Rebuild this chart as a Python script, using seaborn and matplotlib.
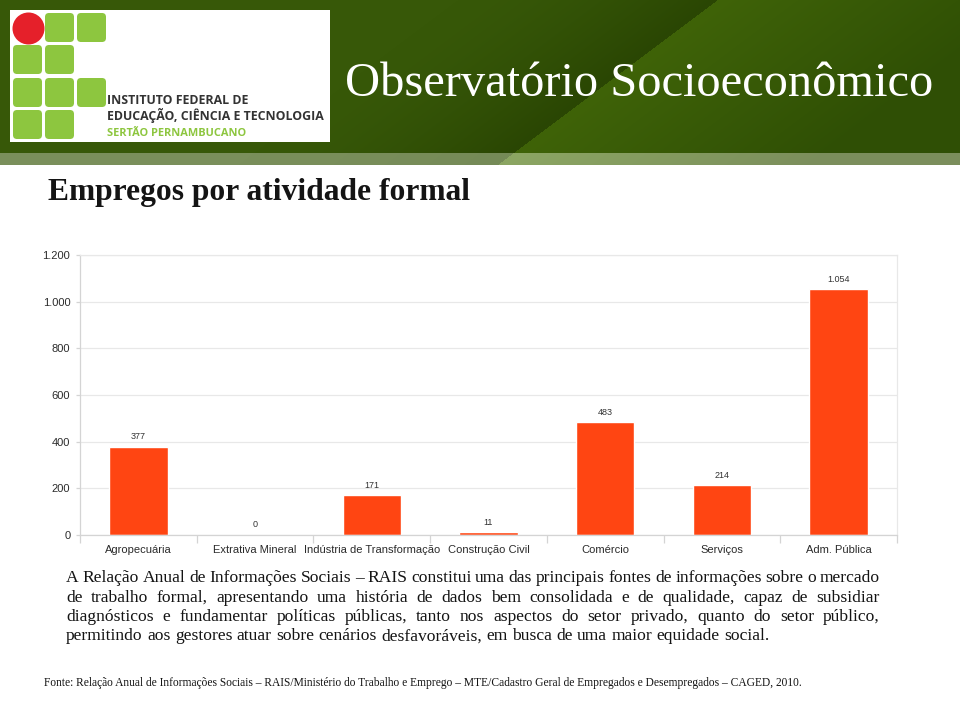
import matplotlib
matplotlib.use("Agg")
import matplotlib.pyplot as plt
from matplotlib.patches import Rectangle, FancyBboxPatch, Circle
from matplotlib.colors import to_rgb
from matplotlib.ticker import FuncFormatter, FixedLocator
import seaborn as sns
import numpy as np

# ── Dados ─────────────────────────────────────────────────────────────────────
SETORES = ["Agropecuária", "Extrativa Mineral", "Indústria de Transformação",
           "Construção Civil", "Comércio", "Serviços", "Adm. Pública"]
EMPREGOS = [377, 0, 171, 11, 483, 214, 1054]
Y_TICKS = [0, 200, 400, 600, 800, 1000, 1200]

TITULO = "Observatório Socioeconômico"
SUBTITULO = "Empregos por atividade formal"
PARAGRAFO = [
    "A Relação Anual de Informações Sociais – RAIS constitui uma das principais fontes de informações sobre o mercado",
    "de trabalho formal, apresentando uma história de dados bem consolidada e de qualidade, capaz de subsidiar",
    "diagnósticos e fundamentar políticas públicas, tanto nos aspectos do setor privado, quanto do setor público,",
    "permitindo aos gestores atuar sobre cenários desfavoráveis, em busca de uma maior equidade social.",
]
FONTE = ("Fonte: Relação Anual de Informações Sociais – RAIS/Ministério do Trabalho e Emprego – "
         "MTE/Cadastro Geral de Empregados e Desempregados – CAGED, 2010.")
LOGO_LINHAS = ["INSTITUTO FEDERAL DE", "EDUCAÇÃO, CIÊNCIA E TECNOLOGIA", "SERTÃO PERNAMBUCANO"]

# ── Cores / fontes ────────────────────────────────────────────────────────────
BAR_C = "#FF4512"
TEXT_C = "#141414"
TICK_C = "#2b2b2b"
GRID_C = "#e8e8e8"
SPINE_C = "#d4d4d4"
LOGO_GREEN = "#8dc63f"
LOGO_RED = "#e5202a"
SANS = "Liberation Sans"
SERIF = "Liberation Serif"

sns.set_theme(style="white")
plt.rcParams["font.family"] = ["Liberation Sans", "DejaVu Sans"]


def _pt(v):
    return f"{int(v):,}".replace(",", ".")


def _mix(c1, c2, t):
    a, b = np.array(to_rgb(c1)), np.array(to_rgb(c2))
    return a * (1 - t[..., None]) + b * t[..., None]


def _header_image():
    # faixa verde com a diagonal mais clara à direita
    ys, xs = np.mgrid[0:165, 0:960].astype(float)
    d = xs - (717 - 1.335 * ys)
    left = np.clip(1 + d / 260, 0, 1) ** 1.6
    right = np.clip(d / 320, 0, 1)
    img = np.where((d < 0)[..., None],
                   _mix("#375808", "#2a4603", left),
                   _mix("#3f6308", "#2f4f05", right))
    strip = ys >= 153
    s_img = np.where((d < 0)[..., None],
                     _mix("#7a8f5b", "#758a57", left),
                     _mix("#8ca663", "#7b8e5c", right))
    img[strip] = s_img[strip]
    return img


def _justified(ax, line, y, x0, x1, size, renderer, last=False):
    words = line.split()
    texts = [ax.text(0, y, w, fontsize=size, family=SERIF, color=TEXT_C,
                     va="baseline", ha="left") for w in words]
    widths = [t.get_window_extent(renderer).width for t in texts]
    if last:
        gap = size * 0.25 * 100 / 72
    else:
        gap = (x1 - x0 - sum(widths)) / (len(words) - 1)
    x = x0
    for t, w in zip(texts, widths):
        t.set_x(x)
        x += w + gap


fig = plt.figure(figsize=(9.6, 7.14), dpi=100)
fig.patch.set_facecolor("white")

# ── Fundo em coordenadas de pixel ────────────────────────────────────────────
bg = fig.add_axes([0, 0, 1, 1])
bg.imshow(_header_image(), extent=(0, 960, 165, 0), aspect="auto",
          interpolation="bilinear", zorder=0)
bg.set_xlim(0, 960)
bg.set_ylim(714, 0)
bg.axis("off")

# logotipo
bg.add_patch(Rectangle((10, 10), 320, 132, color="white", lw=0))
cols = [13, 45, 77]
rows = [13, 45, 78, 110]
grid = [[0, 1, 1], [1, 1, 0], [1, 1, 1], [1, 1, 0]]
for r, row in enumerate(grid):
    for c, on in enumerate(row):
        if on:
            bg.add_patch(FancyBboxPatch((cols[c] + 3, rows[r] + 3), 23, 23,
                                        boxstyle="round,pad=3,rounding_size=4",
                                        color=LOGO_GREEN, lw=0))
bg.add_patch(Circle((28.5, 28.5), 16, color=LOGO_RED, lw=0))
for txt, y in zip(LOGO_LINHAS[:2], [104, 120]):
    bg.text(107, y, txt, fontsize=8.9, family="Open Sans", fontweight="bold",
            color="#333333", va="baseline", ha="left")
bg.text(107, 136, LOGO_LINHAS[2], fontsize=7.9, family="Open Sans",
        fontweight="bold", color=LOGO_GREEN, va="baseline", ha="left")

# títulos
bg.text(345, 96, TITULO, fontsize=34.9, family=SERIF, color="white",
        va="baseline", ha="left")
bg.text(48, 200, SUBTITULO, fontsize=22.7, family=SERIF, fontweight="bold",
        color=TEXT_C, va="baseline", ha="left")

# texto justificado
renderer = fig.canvas.get_renderer()
for i, (line, y) in enumerate(zip(PARAGRAFO, [582, 601.5, 621, 640.5])):
    _justified(bg, line, y, 66, 880, 12.6, renderer, last=(i == len(PARAGRAFO) - 1))

bg.text(44, 686, FONTE, fontsize=8.3, family=SERIF, color=TEXT_C,
        va="baseline", ha="left")

# ── Gráfico de barras ────────────────────────────────────────────────────────
ax = fig.add_axes([80 / 960, 1 - 535 / 714, 817 / 960, 280 / 714])
sns.barplot(x=SETORES, y=EMPREGOS, color=BAR_C, saturation=1, width=0.5, ax=ax)
ax.set_facecolor("white")
ax.set_ylim(0, 1200)
ax.set_yticks(Y_TICKS)
ax.yaxis.set_major_formatter(FuncFormatter(lambda v, _: _pt(v)))
ax.set_xlabel("")
ax.set_ylabel("")
ax.grid(axis="y", color=GRID_C, linewidth=0.9)
ax.grid(axis="x", visible=False)
ax.set_axisbelow(True)
for name, spine in ax.spines.items():
    spine.set_visible(True)
    spine.set_color(SPINE_C if name in ("left", "bottom") else GRID_C)
    spine.set_linewidth(0.9)

ax.xaxis.set_minor_locator(FixedLocator([i - 0.5 for i in range(len(SETORES) + 1)]))
ax.tick_params(axis="x", which="major", length=0, pad=7, labelsize=8, labelcolor=TICK_C)
ax.tick_params(axis="x", which="minor", length=6, width=0.9, color=SPINE_C,
               direction="out", bottom=True)
ax.tick_params(axis="y", which="major", length=3, width=0.9, color=SPINE_C, pad=4,
               labelsize=8, labelcolor=TICK_C, left=True)

ax.bar_label(ax.containers[0], labels=[_pt(v) for v in EMPREGOS], padding=4,
             fontsize=6.5, color="#333333", family=SANS)

fig.savefig("out.png", dpi=100, facecolor="white")
